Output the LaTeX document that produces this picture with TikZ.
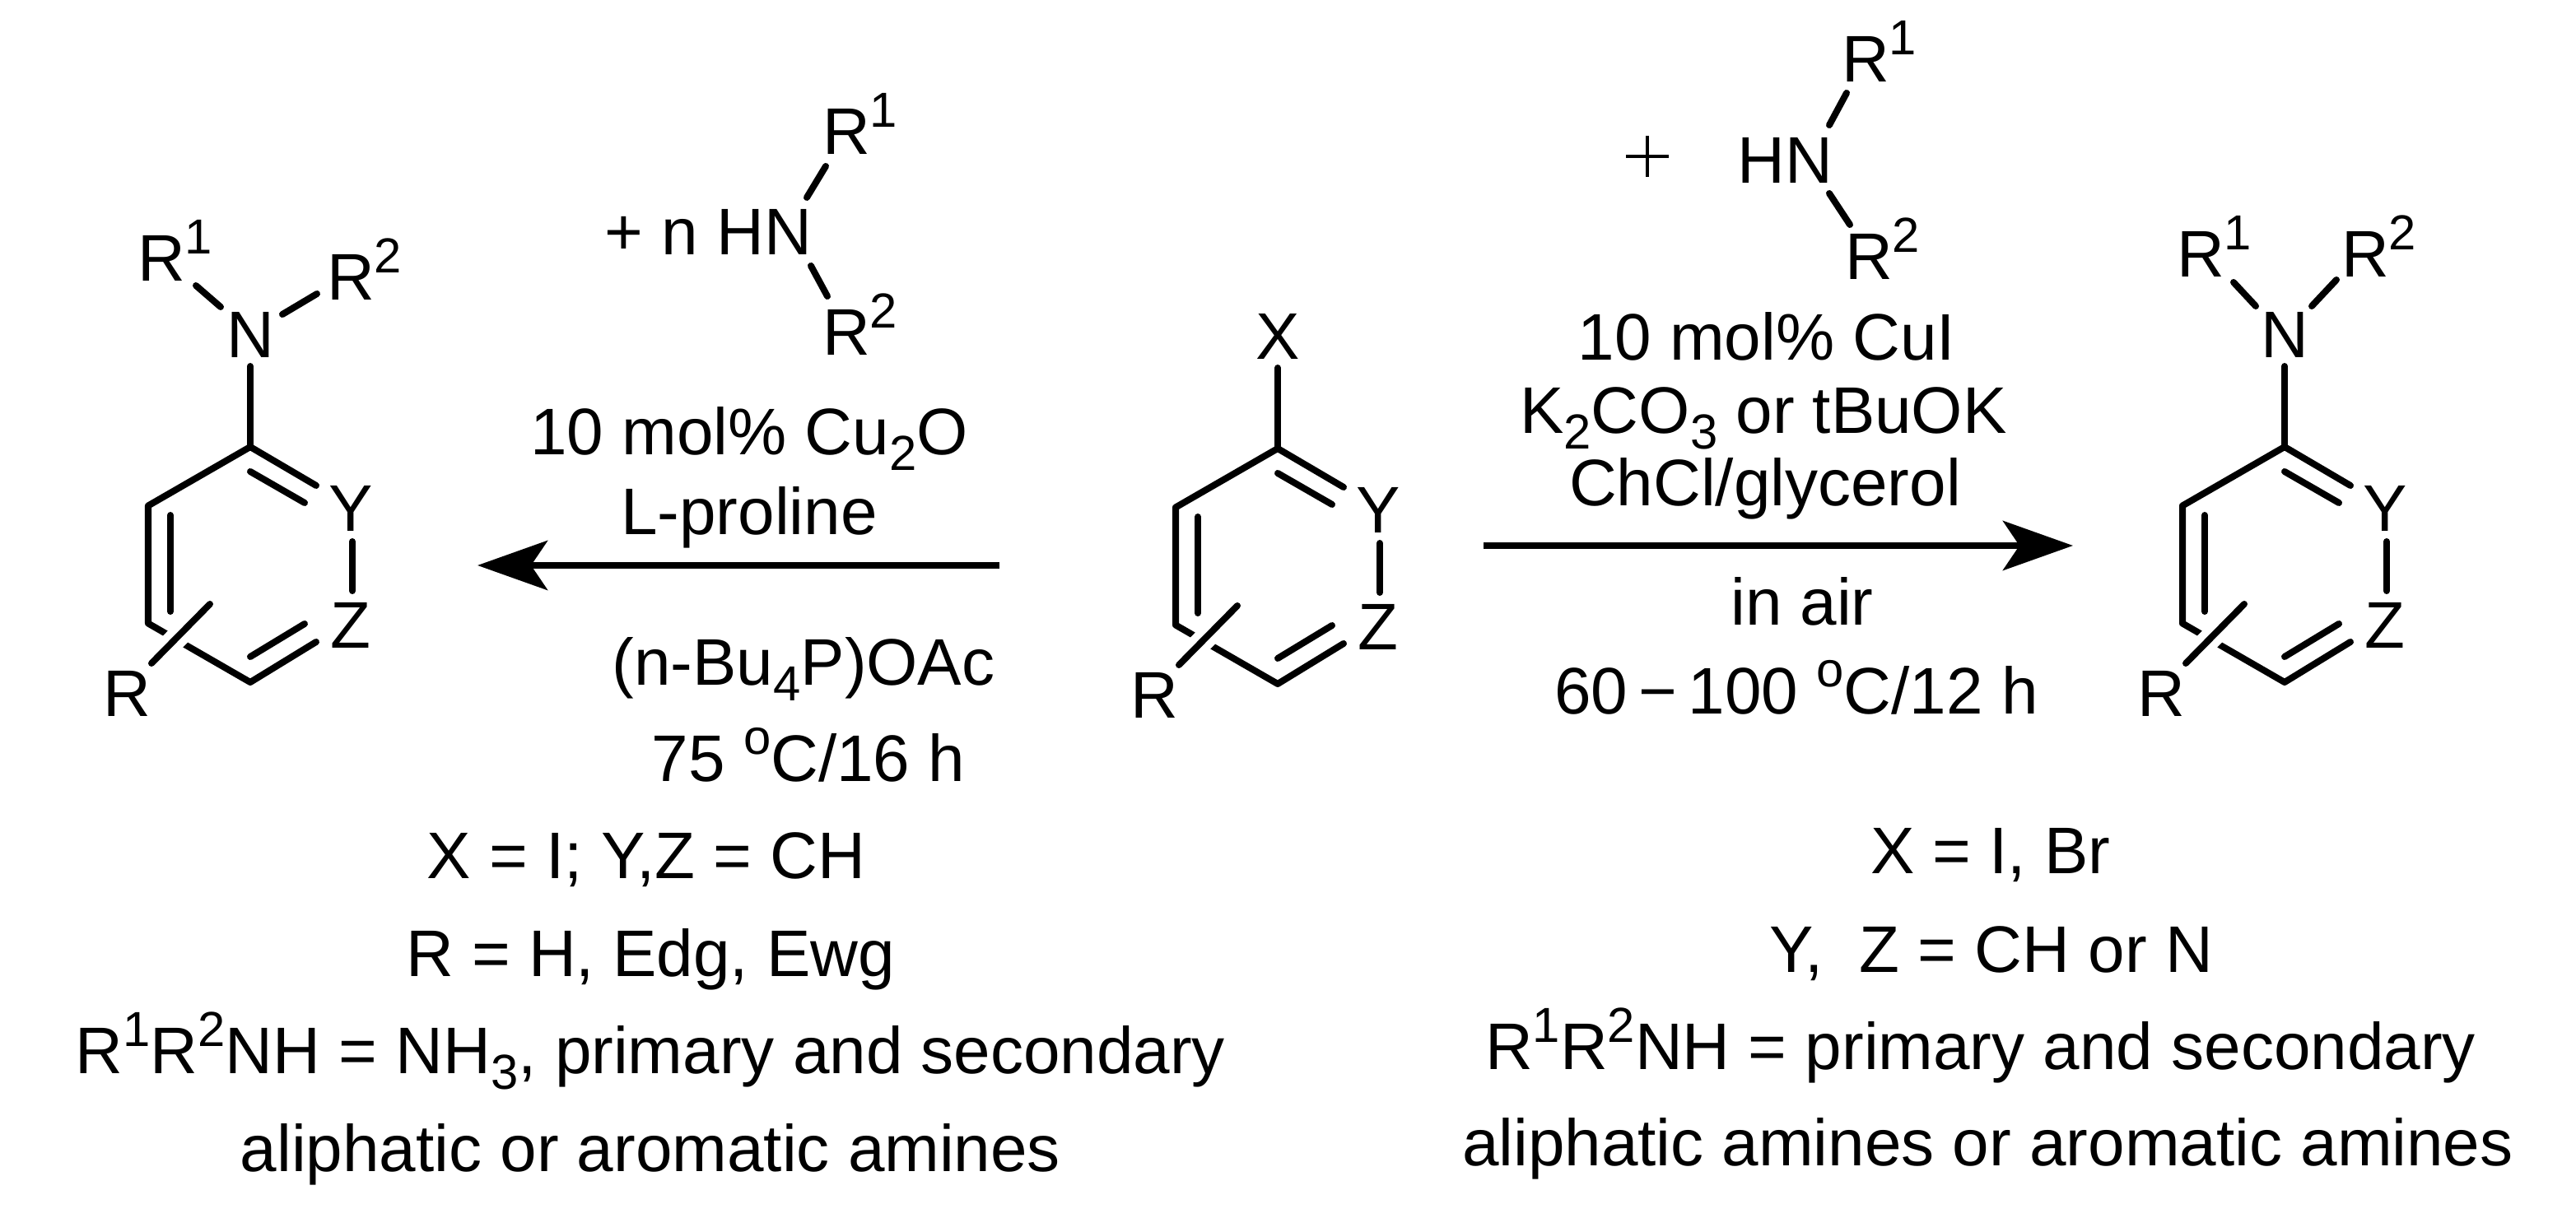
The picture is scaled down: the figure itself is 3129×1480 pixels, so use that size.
\documentclass[tikz,border=0pt]{standalone}
\usepackage{fontspec}
\setmainfont{Liberation Sans}
\usetikzlibrary{arrows.meta}
\newcommand\fs{\fontsize{22.76pt}{34pt}\selectfont}
\newcommand\sps[1]{\raisebox{9.4pt}{\fontsize{17pt}{17pt}\selectfont #1}}
\newcommand\sbs[1]{\raisebox{-5.4pt}{\fontsize{17pt}{17pt}\selectfont #1}}
\tikzset{
  bond/.style={line width=0.08cm, line cap=round, line join=round},
  thinbond/.style={line width=0.075cm, line cap=round},
  rxnarrow/.style={line width=0.08cm, -{Stealth[length=0.85cm,width=0.6cm,inset=0.2cm]}},
  txt/.style={font=\fs, inner sep=0pt, outer sep=0pt, anchor=base},
  txtw/.style={font=\fs, inner sep=0pt, outer sep=0pt, anchor=base west},
  txte/.style={font=\fs, inner sep=0pt, outer sep=0pt, anchor=base east},
}
% ring: #1 top carbon position, #2 prefix, #3 label above (X or N)
\newcommand\arylring[3]{%
\begin{scope}[shift={(#1)}]
  \coordinate (#2T) at (0,0);
  \coordinate (#2UL) at (-124,71.5);
  \coordinate (#2LL) at (-124,214.5);
  \coordinate (#2B) at (0,286);
  \coordinate (#2Ya) at (80,47);
  \coordinate (#2Yb) at (124,115);
  \coordinate (#2Zb) at (124,175);
  \coordinate (#2Za) at (80,237);
  \coordinate (#2top) at (0,-98);
  \draw[bond] (#2Ya) -- (#2T) -- (#2UL) -- (#2LL) -- (#2B) -- (#2Za);
  \draw[bond] (#2T) -- (#2top);
  \draw[bond] (#2Yb) -- (#2Zb);
  \draw[bond] (0,30) -- (66,68);
  \draw[bond] (-97,83) -- (-97,200);
  \draw[bond] (0,255) -- (66,215);
  \coordinate (#2Ra) at (-120,263);
  \coordinate (#2Rb) at (-49,191);
  \draw[white, line width=0.27cm] (#2Ra) -- (#2Rb);
  \draw[bond] (#2Ra) -- (#2Rb);
  \node[txt] (#2Y) at (122,103) {Y};
  \node[txt] (#2Z) at (122,245) {Z};
  \node[txt] (#2R) at (-150,328) {R};
  \node[txt] (#2X) at (0,-108) {#3};
\end{scope}}
\begin{document}
\begin{tikzpicture}[x=0.01cm,y=-0.01cm]
\useasboundingbox[fill=white] (0,0) rectangle (3129,1480);

% ---- left product ----
\arylring{304,543}{L}{N}
\node[txtw] (LR1) at (167,342) {R\sps{1}};
\node[txtw] (LR2) at (397,365) {R\sps{2}};
\coordinate (LN1a) at (238,347); \coordinate (LN1b) at (268,373);
\coordinate (LN2a) at (343,382); \coordinate (LN2b) at (385,357);
\draw[bond] (LN1a) -- (LN1b);
\draw[bond] (LN2a) -- (LN2b);

% ---- central substrate ----
\arylring{1552,545}{C}{X}

% ---- right product ----
\arylring{2775,543}{P}{N}
\node[txtw] (PR1) at (2644,337) {R\sps{1}};
\node[txtw] (PR2) at (2844,337) {R\sps{2}};
\coordinate (PN1a) at (2713,343); \coordinate (PN1b) at (2740,372);
\coordinate (PN2a) at (2808,372); \coordinate (PN2b) at (2838,340);
\draw[bond] (PN1a) -- (PN1b);
\draw[bond] (PN2a) -- (PN2b);

% ---- left reagent ----
\node[txte] (LHN) at (986,310) {+ n HN};
\node[txtw] (LHR1) at (999,188) {R\sps{1}};
\node[txtw] (LHR2) at (999,432) {R\sps{2}};
\coordinate (LH1a) at (980,240); \coordinate (LH1b) at (1003,202);
\coordinate (LH2a) at (985,323); \coordinate (LH2b) at (1005,360);
\draw[bond] (LH1a) -- (LH1b);
\draw[bond] (LH2a) -- (LH2b);

% ---- right reagent ----
\coordinate (plA) at (1975,190); \coordinate (plB) at (2027,190);
\coordinate (plC) at (2001,165); \coordinate (plD) at (2001,215);
\draw[line width=0.04cm] (plA) -- (plB) (plC) -- (plD);
\node[txte] (RHN) at (2226,223) {HN};
\node[txtw] (RHR1) at (2237,100) {R\sps{1}};
\node[txtw] (RHR2) at (2241,340) {R\sps{2}};
\coordinate (RH1a) at (2222,152); \coordinate (RH1b) at (2243,113);
\coordinate (RH2a) at (2222,235); \coordinate (RH2b) at (2247,273);
\draw[bond] (RH1a) -- (RH1b);
\draw[bond] (RH2a) -- (RH2b);

% ---- arrows ----
\coordinate (LAs) at (1214,687); \coordinate (LAe) at (580,687);
\draw[rxnarrow] (LAs) -- (LAe);
\coordinate (RAs) at (1802,663); \coordinate (RAe) at (2518,663);
\draw[rxnarrow] (RAs) -- (RAe);

% ---- left conditions ----
\node[txt] (lc1) at (910,553) {10 mol\% Cu\sbs{2}O};
\node[txt] (lc2) at (910,650) {L-proline};
\node[txt] (lc3) at (976,833) {(n-Bu\sbs{4}P)OAc};
\node[txt] (lc4) at (982,950) {75 \sps{o}C/16 h};

% ---- right conditions ----
\node[txt] (rc1) at (2146,438) {10 mol\% CuI};
\node[txt] (rc2) at (2142,527) {K\sbs{2}CO\sbs{3} or tBuOK};
\node[txt] (rc3) at (2144,615) {ChCl/glycerol};
\node[txt] (rc4) at (2189,760) {in air};
\node[txt] (rc5) at (2182,868) {60\,\char"2212\,100 \sps{o}C/12 h};

% ---- left scope ----
\node[txt] (ls1) at (785,1068) {X = I; Y,Z = CH};
\node[txt] (ls2) at (790,1187) {R = H, Edg, Ewg};
\node[txt] (ls3) at (790,1305) {R\sps{1}R\sps{2}NH = NH\sbs{3}, primary and secondary};
\node[txt] (ls4) at (790,1424) {aliphatic or aromatic amines};

% ---- right scope ----
\node[txtw] (rs1) at (2272,1062) {X = I, Br};
\node[txtw] (rs2) at (2149,1182) {Y,\ \ Z = CH or N};
\node[txtw] (rs3) at (1804,1300) {R\sps{1}R\sps{2}NH = primary and secondary};
\node[txtw] (rs4) at (1776,1417) {aliphatic amines or aromatic amines};
\end{tikzpicture}
\end{document}
